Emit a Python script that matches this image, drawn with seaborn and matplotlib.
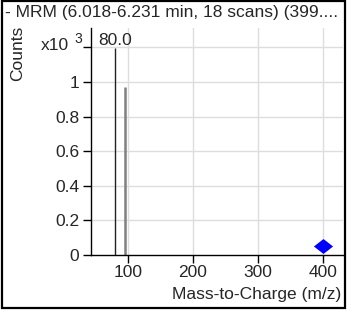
import matplotlib
matplotlib.use("Agg")
import matplotlib.pyplot as plt
import seaborn as sns
import pandas as pd
from matplotlib.patches import Rectangle

# Data
peak_mz = [80.0, 96.5]
peak_counts = [1.195, 0.972]  # x10^3
peak_colors = ["#222222", "#808080"]
peak_widths = [1.0, 1.8]
peak_label = "80.0"
precursor_mz = [400.0]
precursor_counts = [0.052]
x_ticks = [100, 200, 300, 400]
y_ticks = [0, 0.2, 0.4, 0.6, 0.8, 1.0]
y_tick_labels = ["0", "0.2", "0.4", "0.6", "0.8", "1"]
title = "- MRM (6.018-6.231 min, 18 scans) (399...."
xlabel = "Mass-to-Charge (m/z)"
ylabel = "Counts"

sns.set_style("white")
plt.rcParams["font.family"] = ["Liberation Sans", "DejaVu Sans"]

FS = 12.5
W, H = 347, 312
fig = plt.figure(figsize=(W / 100, H / 100), dpi=100)
left, right, top, bottom = 91, 343, 28, 255
ax = fig.add_axes([left / W, 1 - bottom / H, (right - left) / W, (bottom - top) / H])

ax.set_xlim(43.7, 430)
ax.set_ylim(0, 1.312)

# grid
for xt in x_ticks:
    ax.axvline(xt, color="#dddddd", lw=1, zorder=0)
for yt in y_ticks[1:] + [1.2]:
    ax.axhline(yt, color="#dddddd", lw=1, zorder=0)

# peaks
ax.vlines(peak_mz, 0, peak_counts, colors=peak_colors, linewidths=peak_widths, zorder=2)
ax.text(peak_mz[0] + 1, 1.212, peak_label, ha="center", va="baseline", fontsize=FS)

df = pd.DataFrame({"mz": precursor_mz, "counts": precursor_counts})
diamond = [(-1, 0), (0, 0.78), (1, 0), (0, -0.78), (-1, 0)]
sns.scatterplot(data=df, x="mz", y="counts", ax=ax, marker=diamond, s=190,
                color="#0000ff", edgecolor="#0000ff", linewidth=0, zorder=3, legend=False)

ax.set_xticks(x_ticks)
ax.set_xticklabels([str(t) for t in x_ticks])
ax.set_yticks(y_ticks + [1.2])
ax.set_yticklabels(y_tick_labels + [""])
ax.tick_params(axis="both", labelsize=FS, length=5.8, width=1, color="black", pad=2.5,
               direction="out", left=True, bottom=True)
ax.tick_params(axis="x", pad=1.5)
for s in ["top", "right"]:
    ax.spines[s].set_visible(False)
for s in ["left", "bottom"]:
    ax.spines[s].set_color("black")
    ax.spines[s].set_linewidth(1)
ax.set_xlabel("")
ax.set_ylabel("")

# exponent label at top tick
fig.text(69 / W, 1 - 45 / H, "x10", ha="right", va="center", fontsize=FS)
fig.text(74 / W, 1 - 39 / H, "3", ha="left", va="center", fontsize=FS * 0.8)

fig.text(5 / W, 1 - 13 / H, title, ha="left", va="center", fontsize=FS)
fig.text(18 / W, 1 - 53 / H, ylabel, ha="center", va="center", rotation=90, fontsize=FS)
fig.text(341 / W, 1 - 295 / H, xlabel, ha="right", va="center", fontsize=FS)

fig.patches.append(Rectangle((2 / W, 1 - 308 / H), 343 / W, 307.5 / H, transform=fig.transFigure,
                             fill=False, edgecolor="black", linewidth=1.6, figure=fig))

fig.savefig("out.png", dpi=100)
